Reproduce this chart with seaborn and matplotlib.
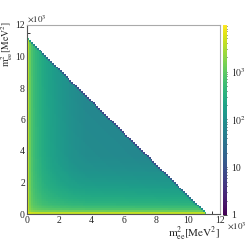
import numpy as np
import matplotlib
matplotlib.use("Agg")
import matplotlib.pyplot as plt
import seaborn as sns
from matplotlib.colors import LogNorm
from matplotlib.ticker import FixedLocator, NullFormatter

# ---- data ----
n_bins = 100                 # bins per axis
axis_max = 12.0              # x10^3 MeV^2
boundary_sum = 11.1          # kinematic limit x + y (x10^3 MeV^2)
# excess counts vs bin distance from an axis (bin 0 = edge bin)
edge_excess = [3800, 1100, 620, 440, 350, 290, 245, 210, 180, 155, 135, 118,
               103, 90, 79, 69, 60, 52, 45, 39, 33, 28, 23, 19, 15, 12, 9,
               7, 5, 3]
# interior level vs (x + y), one entry per 1x10^3 MeV^2
base_by_sum = [110, 110, 105, 100, 95, 90, 86, 82, 78, 74, 70, 66]
x_ticks = [0, 2, 4, 6, 8, 10, 12]
cbar_ticks = [1, 10, 100, 1000]
cbar_labels = ["1", "10", "$10^{2}$", "$10^{3}$"]
z_min, z_max = 1.0, 9500.0

# ---- build histogram ----
w = axis_max / n_bins
excess = np.zeros(n_bins)
excess[:len(edge_excess)] = edge_excess
idx = np.arange(n_bins)
X0 = idx[None, :] * w       # columns -> x
Y0 = idx[:, None] * w       # rows -> y
t = (boundary_sum - X0 - Y0) / w
frac = np.where(t <= 0, 0.0,
       np.where(t < 1, t ** 2 / 2,
       np.where(t < 2, 1 - (2 - t) ** 2 / 2, 1.0)))
sum_idx = np.clip(((X0 + Y0) // 1.0).astype(int), 0, len(base_by_sum) - 1)
base = np.array(base_by_sum)[sum_idx]
counts = (base + excess[None, :] + excess[:, None]) * frac
counts = np.where(counts < 1.0, 0.0, counts)
mask = counts <= 0

# ---- style ----
sns.set_style("white")
plt.rcParams["font.family"] = ["Liberation Serif", "DejaVu Serif"]
plt.rcParams["mathtext.fontset"] = "stix"

W, H = 249, 242
fig = plt.figure(figsize=(W / 100, H / 100), dpi=100)
ax = fig.add_axes([27 / W, 28 / H, 193 / W, 189 / H])
cax = fig.add_axes([222.5 / W, 27 / H, 4.5 / W, 190 / H])

sns.heatmap(counts, mask=mask, cmap="viridis",
            norm=LogNorm(vmin=z_min, vmax=z_max, clip=True),
            ax=ax, cbar_ax=cax, xticklabels=False, yticklabels=False)
ax.set_ylim(0, n_bins)
ax.set_xlim(0, n_bins)

for side, sp in ax.spines.items():
    sp.set_visible(True)
    sp.set_linewidth(0.8)
    sp.set_color("#555555" if side in ("left", "bottom") else "#aaaaaa")

scale = n_bins / axis_max
major_pos = [v * scale for v in x_ticks]
minor_pos = [v * scale for v in np.arange(0, axis_max + 0.01, 0.5)]
for axis in (ax.xaxis, ax.yaxis):
    axis.set_major_locator(FixedLocator(major_pos))
    axis.set_minor_locator(FixedLocator(minor_pos))
    axis.set_minor_formatter(NullFormatter())
ax.set_xticklabels([str(v) for v in x_ticks])
ax.set_yticklabels([str(v) for v in x_ticks], rotation=0)
ax.tick_params(which="both", direction="in", color="#333333", width=0.7,
               bottom=True, left=True, top=False, right=False,
               labelsize=7, pad=1.5)
ax.tick_params(which="major", length=4.5)
ax.tick_params(which="minor", length=2.5)

ax.set_xlabel("$\\mathrm{m^{2}_{ee}[MeV^{2}]}$", fontsize=8, loc="right",
              labelpad=0)
ax.set_ylabel("$\\mathrm{m^{2}_{ee}[MeV^{2}]}$", fontsize=7, loc="top")
ax.yaxis.set_label_coords(-0.06, 1.02)
ax.text(1.035, -0.032, "$\\times10^{3}$", transform=ax.transAxes,
        fontsize=6.5, ha="left", va="top")
ax.text(0.0, 1.005, "$\\times10^{3}$", transform=ax.transAxes,
        fontsize=6.5, ha="left", va="bottom")

cb = ax.collections[0].colorbar
cb.outline.set_visible(False)
cax.yaxis.set_ticks(cbar_ticks)
cax.yaxis.set_ticklabels(cbar_labels)
cax.tick_params(which="both", direction="in", right=True, left=False,
                labelsize=7, pad=3, color="#222222", width=0.6)
cax.tick_params(which="major", length=3)
cax.tick_params(which="minor", length=1.5)

fig.savefig("out.png", dpi=100)
